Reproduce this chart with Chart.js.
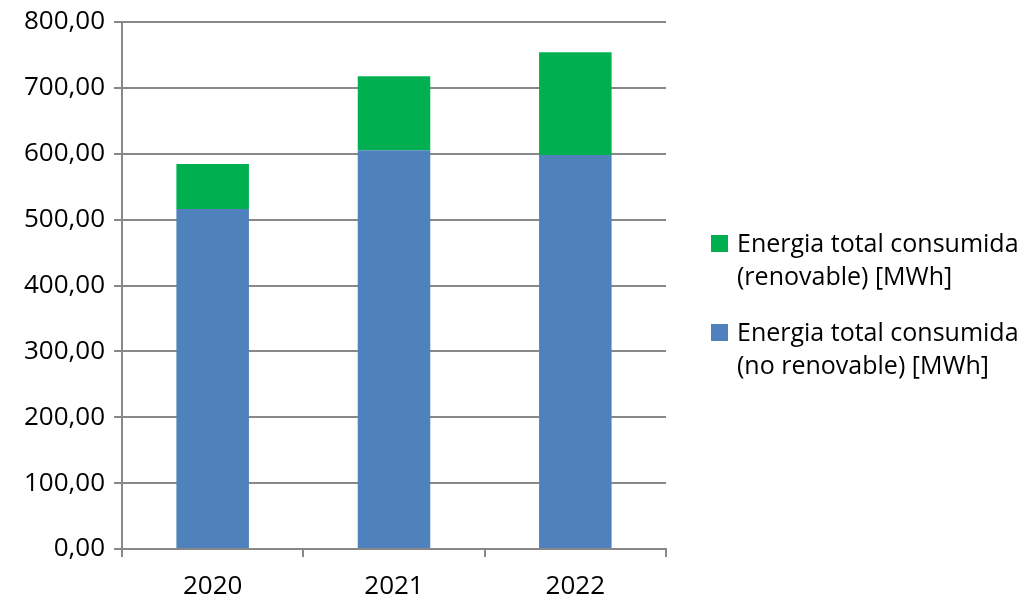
<!DOCTYPE html>
<html>
<head>
<meta charset="utf-8">
<script src="https://cdn.jsdelivr.net/npm/chart.js@4"></script>
<style>
html,body{margin:0;padding:0;background:#fff;}
#wrap{position:relative;width:1027px;height:600px;}
#legend{position:absolute;left:711px;top:226px;font-family:"Open Sans",sans-serif;font-size:25px;color:#000;line-height:33px;white-space:nowrap;}
.item{display:flex;align-items:flex-start;margin-bottom:23px;}
.sw{width:17px;height:17px;margin-top:9px;margin-right:9px;flex:none;}
</style>
</head>
<body>
<div id="wrap">
<canvas id="c" width="1027" height="600"></canvas>
<div id="legend"></div>
</div>
<script>
const categories = ["2020", "2021", "2022"];
const noRenovable = [516, 605.5, 598];
const renovable = [68.5, 112, 156];
const seriesNames = [
  ["Energia total consumida", "(no renovable) [MWh]"],
  ["Energia total consumida", "(renovable) [MWh]"]
];
const yTicks = [0, 100, 200, 300, 400, 500, 600, 700, 800];

const FONT = {family: "Open Sans", size: 26, lineHeight: 1};
const GRID = "#888888";

const chart = new Chart(document.getElementById("c"), {
  type: "bar",
  data: {
    labels: categories,
    datasets: [
      {label: seriesNames[0].join(" "), data: noRenovable, backgroundColor: "#4F81BD", barPercentage: 0.4, categoryPercentage: 1},
      {label: seriesNames[1].join(" "), data: renovable, backgroundColor: "#00B050", barPercentage: 0.4, categoryPercentage: 1}
    ]
  },
  options: {
    responsive: false,
    animation: false,
    layout: {padding: {top: 21, right: 361, left: 0, bottom: 0}},
    plugins: {legend: {display: false}, tooltip: {enabled: false}},
    scales: {
      x: {
        stacked: true,
        grid: {drawOnChartArea: false, color: GRID, lineWidth: 2, tickLength: 8, offset: true},
        border: {color: GRID, width: 2},
        ticks: {font: FONT, color: "#000", padding: 17},
        afterFit: s => { s.height = 51; }
      },
      y: {
        stacked: true,
        min: 0, max: 800,
        afterBuildTicks: s => { s.ticks = yTicks.map(v => ({value: v})); },
        grid: {color: GRID, lineWidth: 2, tickLength: 8},
        border: {color: GRID, width: 2},
        ticks: {font: FONT, color: "#000", padding: 9,
          callback: v => v.toFixed(2).replace(".", ",")},
        afterFit: s => { s.width = 122; }
      }
    }
  }
});

const legend = document.getElementById("legend");
[1, 0].forEach(i => {
  const ds = chart.data.datasets[i];
  const it = document.createElement("div");
  it.className = "item";
  const sw = document.createElement("div");
  sw.className = "sw";
  sw.style.background = ds.backgroundColor;
  const tx = document.createElement("div");
  tx.innerHTML = seriesNames[i].join("<br>");
  it.appendChild(sw); it.appendChild(tx);
  legend.appendChild(it);
});
</script>
</body>
</html>
